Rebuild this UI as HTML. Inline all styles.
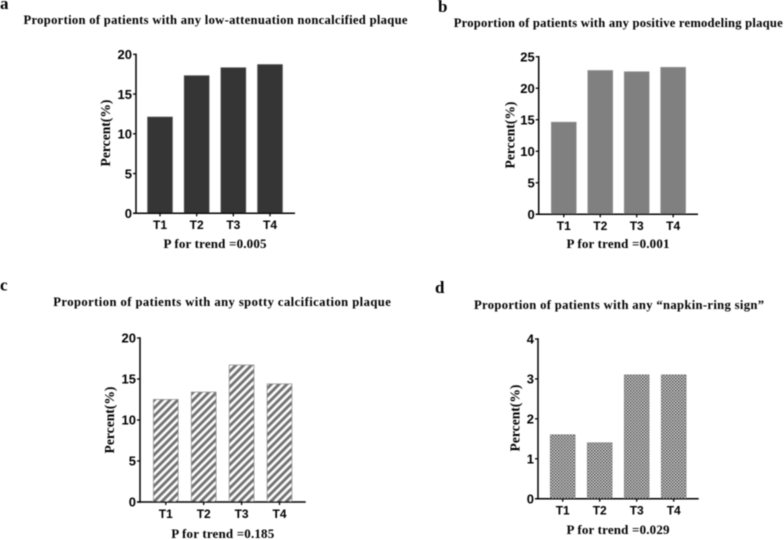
<!DOCTYPE html>
<html>
<head>
<meta charset="utf-8">
<title>Proportion of patients by plaque type</title>
<style>
html,body{margin:0;padding:0;background:#fff;width:784px;height:540px;overflow:hidden}
svg{display:block}
.title{font:bold 12.6px "Liberation Serif",serif;fill:#000}
.panel{font:bold 17px "Liberation Serif",serif;fill:#000}
.tick{font:bold 13px "Liberation Sans",sans-serif;fill:#000}
.ylab{font:bold 13.6px "Liberation Serif",serif;fill:#000}
.ptrend{font:bold 13px "Liberation Serif",serif;fill:#000}
</style>
</head>
<body>
<svg id="chart" width="784" height="540" viewBox="0 0 784 540" xmlns="http://www.w3.org/2000/svg">
<defs>
<pattern id="stripes" width="5.5" height="5.5" patternUnits="userSpaceOnUse" patternTransform="rotate(45)">
<rect width="5.5" height="5.5" fill="#fff"/>
<rect width="3.1" height="5.5" fill="#727272"/>
</pattern>
<pattern id="checks" width="3" height="3" patternUnits="userSpaceOnUse">
<rect width="3" height="3" fill="#c4c4c4"/>
<rect width="1.5" height="1.5" fill="#333"/>
<rect x="1.5" y="1.5" width="1.5" height="1.5" fill="#4a4a4a"/>
</pattern>
<filter id="soft" x="-2%" y="-2%" width="104%" height="104%"><feGaussianBlur stdDeviation="0.4"/></filter>
</defs>
<g id="root" filter="url(#soft)"></g>
</svg>
<script>
const categories = ["T1", "T2", "T3", "T4"];
const valuesA = [12.1, 17.3, 18.3, 18.7];
const valuesB = [14.6, 22.8, 22.6, 23.3];
const valuesC = [12.5, 13.4, 16.7, 14.4];
const valuesD = [1.6, 1.4, 3.1, 3.1];
const ticksA = [0, 5, 10, 15, 20];
const ticksB = [0, 5, 10, 15, 20, 25];
const ticksC = [0, 5, 10, 15, 20];
const ticksD = [0, 1, 2, 3, 4];
const yTitle = "Percent(%)";

const panels = [
  {id:"a", values:valuesA, ticks:ticksA, title:"Proportion of patients with any low-attenuation noncalcified plaque", p:"P for trend =0.005",
   fill:"#363636", edge:"#4a4a4a", axisX:136, top:54.3, bottom:213.3, right:295, first:160, step:36.67,
   titleX:23.5, titleY:24, titleW:384, letterX:0, letterY:9, yLabX:110, yLabY:133, pX:215, pY:248, catY:229},
  {id:"b", values:valuesB, ticks:ticksB, title:"Proportion of patients with any positive remodeling plaque", p:"P for trend =0.001",
   fill:"#808080", edge:"#8c8c8c", axisX:538.7, top:56.7, bottom:214.3, right:698, first:563.8, step:36.45,
   titleX:453.7, titleY:27, titleW:329, letterX:438, letterY:12, yLabX:514.5, yLabY:135, pX:618, pY:248, catY:230},
  {id:"c", values:valuesC, ticks:ticksC, title:"Proportion of patients with any spotty calcification plaque", p:"P for trend =0.185",
   fill:"url(#stripes)", edge:"#8a8a8a", axisX:140, top:338, bottom:502, right:305.7, first:165.8, step:37.9,
   titleX:53.3, titleY:306, titleW:337.5, letterX:0, letterY:290.5, yLabX:114, yLabY:420, pX:222.7, pY:538, catY:518},
  {id:"d", values:valuesD, ticks:ticksD, title:"Proportion of patients with any \u201Cnapkin-ring sign\u201D", p:"P for trend =0.029",
   fill:"url(#checks)", edge:"#8a8a8a", axisX:538, top:339, bottom:498.7, right:698.7, first:562.7, step:37,
   titleX:474, titleY:309, titleW:290, letterX:435, letterY:293, yLabX:519.5, yLabY:418, pX:618, pY:534, catY:514.5}
];

const NS = "http://www.w3.org/2000/svg";
const root = document.getElementById("root");
const BAR_W = 24.7;

function make(tag, attrs, parent, txt) {
  const el = document.createElementNS(NS, tag);
  for (const k in attrs) el.setAttribute(k, attrs[k]);
  if (txt !== undefined) el.textContent = txt;
  parent.appendChild(el);
  return el;
}

panels.forEach(function (cfg) {
  const g = make("g", {}, root);
  
  

  const maxTick = cfg.ticks[cfg.ticks.length - 1];
  const yScale = function (v) { return cfg.bottom - (v / maxTick) * (cfg.bottom - cfg.top); };
  const xScale = function (i) { return cfg.first + i * cfg.step; };

  const letter = make("text", {x:cfg.letterX, y:cfg.letterY, class:"panel"}, g, cfg.id);
  
  

  const title = make("text", {x:cfg.titleX, y:cfg.titleY, class:"title", textLength:cfg.titleW, lengthAdjust:"spacing"}, g, cfg.title);
  
  

  cfg.values.forEach(function (v, i) {
    const yTop = yScale(v);
    const bar = make("rect", {x:xScale(i) - BAR_W / 2, y:yTop, width:BAR_W, height:cfg.bottom - yTop, fill:cfg.fill, stroke:cfg.edge, "stroke-width":0.8}, g);
    
    
  });

  const yAxis = make("line", {x1:cfg.axisX, x2:cfg.axisX, y1:cfg.top - 0.7, y2:cfg.bottom + 0.7, stroke:"#000", "stroke-width":1.5}, g);
  
  

  const xAxis = make("line", {x1:cfg.axisX - 3, x2:cfg.right, y1:cfg.bottom, y2:cfg.bottom, stroke:"#000", "stroke-width":1.5}, g);
  
  

  cfg.ticks.forEach(function (t) {
    const y = yScale(t);
    const tickMark = make("line", {x1:cfg.axisX - 3, x2:cfg.axisX, y1:y, y2:y, stroke:"#000", "stroke-width":1.3}, g);
    
    
    const label = make("text", {x:cfg.axisX - 4, y:y + 4.7, "text-anchor":"end", class:"tick"}, g, String(t));
    
    
  });

  categories.forEach(function (c, i) {
    const x = xScale(i);
    const tickMark = make("line", {x1:x, x2:x, y1:cfg.bottom, y2:cfg.bottom + 3, stroke:"#000", "stroke-width":1.3}, g);
    
    
    const label = make("text", {x:x, y:cfg.catY, "text-anchor":"middle", class:"tick", style:"font-size:12px"}, g, c);
    
    
  });

  const yLab = make("text", {x:0, y:0, "text-anchor":"middle", class:"ylab", transform:"translate(" + cfg.yLabX + "," + cfg.yLabY + ") rotate(-90)"}, g, yTitle);
  
  

  const p = make("text", {x:cfg.pX, y:cfg.pY, "text-anchor":"middle", class:"ptrend", textLength:103, lengthAdjust:"spacing"}, g, cfg.p);
  
  
});
</script>
</body>
</html>
